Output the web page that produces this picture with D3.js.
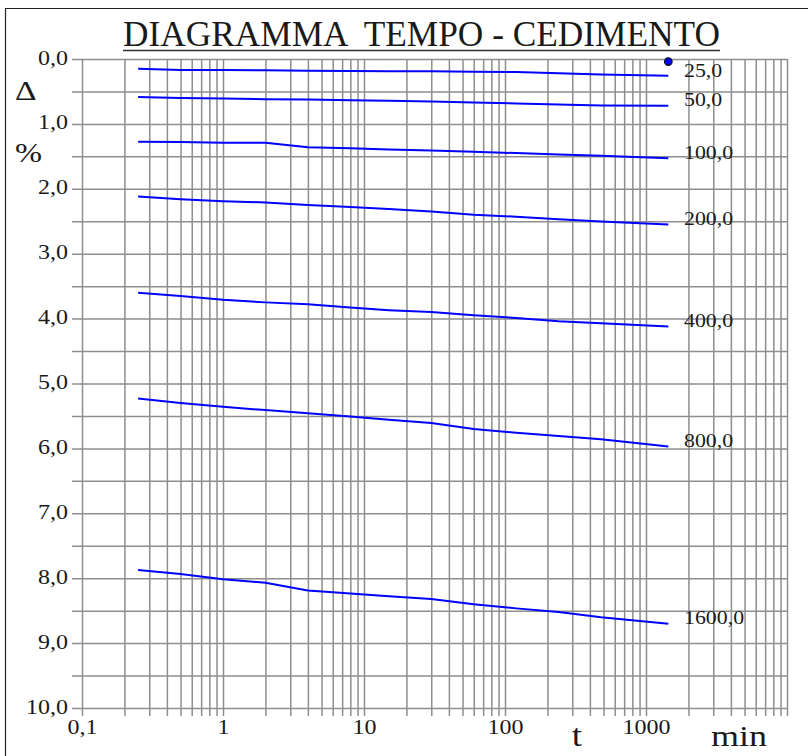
<!DOCTYPE html>
<html><head><meta charset="utf-8">
<script src="https://cdn.jsdelivr.net/npm/d3@7"></script>
<style>
html,body{margin:0;padding:0;background:#fff;}
svg{display:block;}
text{font-family:"Liberation Serif","Times New Roman",serif;fill:#1a1a1a;}
</style></head>
<body><svg id="c" width="808" height="756"></svg>
<script>
// ---- data ----
const times = [0.25, 0.5, 1, 2, 4, 8, 15, 30, 60, 120, 240, 480, 1440]; // min
const loads = [25, 50, 100, 200, 400, 800, 1600];
const s25   = [0.15, 0.17, 0.17, 0.175, 0.18, 0.185, 0.19, 0.19, 0.195, 0.20, 0.22, 0.24, 0.26];
const s50   = [0.585, 0.60, 0.61, 0.62, 0.625, 0.635, 0.645, 0.655, 0.67, 0.685, 0.70, 0.715, 0.72];
const s100  = [1.275, 1.28, 1.29, 1.29, 1.36, 1.375, 1.395, 1.41, 1.43, 1.45, 1.47, 1.49, 1.53];
const s200  = [2.12, 2.16, 2.19, 2.21, 2.25, 2.28, 2.31, 2.35, 2.40, 2.43, 2.47, 2.505, 2.55];
const s400  = [3.60, 3.65, 3.71, 3.75, 3.78, 3.83, 3.87, 3.90, 3.95, 3.99, 4.04, 4.07, 4.12];
const s800  = [5.23, 5.30, 5.36, 5.41, 5.46, 5.51, 5.56, 5.61, 5.70, 5.76, 5.81, 5.86, 5.97];
const s1600 = [7.875, 7.935, 8.015, 8.07, 8.19, 8.235, 8.28, 8.32, 8.40, 8.465, 8.52, 8.60, 8.70];
const series = [s25, s50, s100, s200, s400, s800, s1600];
const marker = {t: 1440, v: 0.04};
const xTickLabels = ["0,1", "1", "10", "100", "1000"];
const yTicks = d3.range(0, 10.01, 0.5);
const titleText = "DIAGRAMMA  TEMPO - CEDIMENTO";

// ---- layout ----
const L = 82, R = 787, T = 59, B = 708;
const SX = 1.2; // horizontal stretch of the serif text
const svg = d3.select("#c");
const x = d3.scaleLog().domain([0.1, 10000]).range([L, R]);
const y = d3.scaleLinear().domain([0, 10]).range([T, B]);
const fmt = d => d3.format(".1f")(d).replace(".", ",");
const gridColor = "#8e8e8e", gridW = 1.5;

// frame
svg.append("path").attr("d", "M5.5,760 V8.5 H812").attr("fill", "none").attr("stroke", "#222").attr("stroke-width", 1.2);

// title
svg.append("text").attr("x", 123).attr("y", 46).attr("font-size", 35)
  .attr("textLength", 597).attr("lengthAdjust", "spacingAndGlyphs")
  .style("white-space", "pre").text(titleText);
svg.append("line").attr("x1", 123).attr("x2", 720).attr("y1", 50.5).attr("y2", 50.5)
  .attr("stroke", "#333").attr("stroke-width", 1.5);

// vertical grid (log)
const vTicks = [];
for (let k = -1; k <= 3; k++) for (let m = 1; m <= 9; m++) vTicks.push(+(m * Math.pow(10, k)).toPrecision(3));
vTicks.push(10000);
const xAxis = d3.axisBottom(x).tickValues(vTicks).tickSize(-(B - T + 8)).tickPadding(4)
  .tickFormat(d => { const i = [0.1, 1, 10, 100, 1000].indexOf(d); return i >= 0 ? xTickLabels[i] : ""; });
const gx = svg.append("g").attr("transform", `translate(0,${B + 8})`).call(xAxis);
gx.select(".domain").remove();
gx.selectAll(".tick line").attr("stroke", gridColor).attr("stroke-width", gridW);
gx.selectAll(".tick text").attr("font-size", 20).attr("fill", "#1a1a1a")
  .attr("transform", `scale(${SX},1)`).attr("x", 0);

// horizontal grid
const yAxis = d3.axisLeft(y).tickValues(yTicks).tickSize(-(R - L + 10)).tickPadding(4)
  .tickFormat(d => Number.isInteger(d) ? fmt(d) : "");
const gy = svg.append("g").attr("transform", `translate(${L - 10},0)`).call(yAxis);
gy.select(".domain").remove();
gy.selectAll(".tick line").attr("stroke", gridColor).attr("stroke-width", gridW);
gy.selectAll(".tick text").attr("font-size", 20).attr("fill", "#1a1a1a")
  .attr("dy", "0.25em").each(function(){ const t = d3.select(this); const xx = +t.attr("x"); t.attr("x", xx / SX).attr("transform", `scale(${SX},1)`); });

// axis titles
function stretched(px, py, txt, size, anchor) {
  svg.append("text").attr("transform", `translate(${px},${py}) scale(${SX},1)`)
    .attr("font-size", size).attr("text-anchor", anchor || "start").text(txt);
}
stretched(15, 100, "\u0394", 28);
stretched(15, 162, "%", 27);
stretched(577, 746, "t", 31, "middle");
stretched(711, 746, "min", 30);

// curves
const line = d3.line().x((d, i) => x(times[i])).y(d => y(d));
svg.append("g").selectAll("path").data(series).join("path")
  .attr("d", line).attr("fill", "none").attr("stroke", "#0000ff").attr("stroke-width", 2);

// curve labels
svg.append("g").selectAll("text").data(series).join("text")
  .attr("transform", d => `translate(684,${y(d[d.length - 1]) - 6}) scale(1.15,1)`)
  .attr("dy", "0.35em").attr("font-size", 19).text((d, i) => fmt(loads[i]));

// marker dot
svg.append("circle").attr("cx", x(marker.t)).attr("cy", y(marker.v)).attr("r", 3.8)
  .attr("fill", "#0000ff").attr("stroke", "#111").attr("stroke-width", 1.2);
</script></body></html>
